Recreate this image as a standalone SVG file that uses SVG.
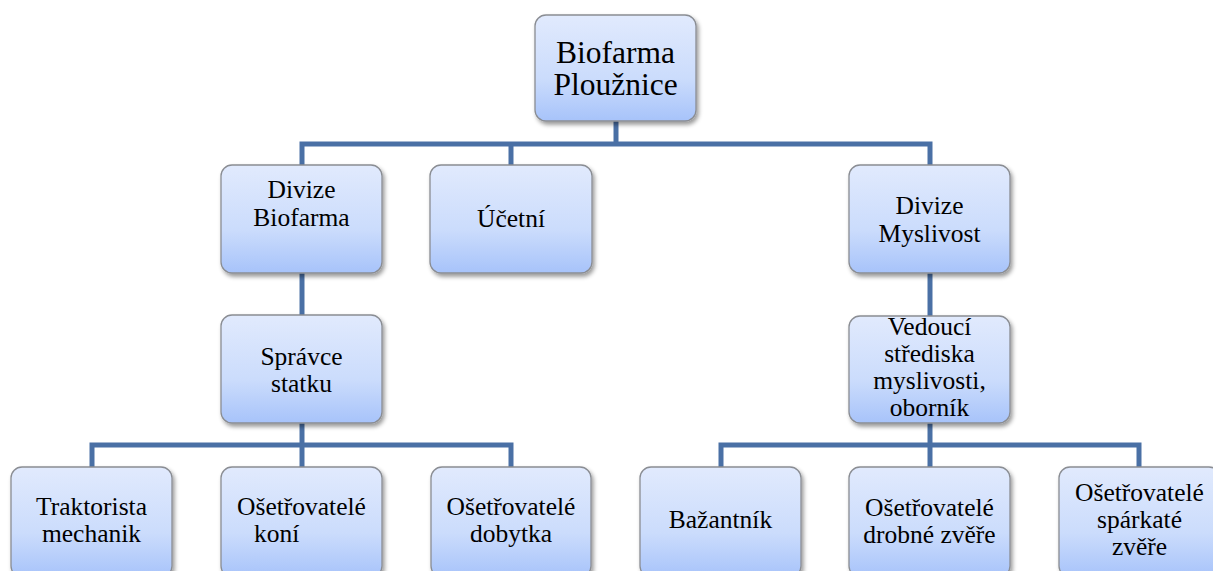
<svg xmlns="http://www.w3.org/2000/svg" width="1213" height="571" viewBox="0 0 1213 571">
<defs>
<linearGradient id="g" x1="0" y1="0" x2="0" y2="1">
<stop offset="0" stop-color="#e1eafd"/>
<stop offset="0.6" stop-color="#cbdcfc"/>
<stop offset="1" stop-color="#a7c3fa"/>
</linearGradient>
<filter id="sh" x="-10%" y="-10%" width="125%" height="130%">
<feDropShadow dx="2" dy="3" stdDeviation="2.2" flood-color="#000" flood-opacity="0.4"/>
</filter>
<style>
.box{fill:url(#g);stroke:#8a8d93;stroke-width:1.3;filter:url(#sh)}
text{font-family:'Liberation Serif','Times New Roman',serif;font-size:25.5px;fill:#000;text-anchor:middle}
.tr{font-size:31.5px}
.c{fill:none;stroke:#4a70a5;stroke-width:5;stroke-linejoin:miter}
</style>
</defs>
<rect width="1213" height="571" fill="#fff"/>
<g id="connectors">
<path class="c" d="M616 121 V144"/>
<path class="c" d="M302 165 V144 H930 V165"/>
<path class="c" d="M511 144 V165"/>
<path class="c" d="M302 273 V315"/>
<path class="c" d="M930 273 V316"/>
<path class="c" d="M302 423 V467"/>
<path class="c" d="M92 467 V445 H511 V467"/>
<path class="c" d="M930 423 V467"/>
<path class="c" d="M721 467 V445 H1139 V467"/>
</g>
<g id="n-root">
<rect class="box" x="535" y="15" width="161" height="106" rx="11"/>
<text class="tr" x="615.5" y="63">Biofarma</text>
<text class="tr" x="615.5" y="95">Ploužnice</text>
</g>
<g id="n-divize-biofarma">
<rect class="box" x="221" y="165" width="161" height="108" rx="11"/>
<text x="301.5" y="198">Divize</text>
<text x="301.5" y="226">Biofarma</text>
</g>
<g id="n-ucetni">
<rect class="box" x="430" y="165" width="162" height="108" rx="11"/>
<text x="511" y="227">Účetní</text>
</g>
<g id="n-divize-myslivost">
<rect class="box" x="849" y="165" width="161" height="108" rx="11"/>
<text x="929.5" y="214">Divize</text>
<text x="929.5" y="242">Myslivost</text>
</g>
<g id="n-spravce">
<rect class="box" x="221" y="315" width="161" height="108" rx="11"/>
<text x="301.5" y="365">Správce</text>
<text x="301.5" y="392">statku</text>
</g>
<g id="n-vedouci">
<rect class="box" x="849" y="316" width="161" height="107" rx="11"/>
<text x="929.5" y="335">Vedoucí</text>
<text x="929.5" y="362">střediska</text>
<text x="929.5" y="389">myslivosti,</text>
<text x="929.5" y="416">oborník</text>
</g>
<g id="n-traktorista">
<rect class="box" x="11" y="467" width="161" height="110" rx="11"/>
<text x="91.5" y="515">Traktorista</text>
<text x="91.5" y="542">mechanik</text>
</g>
<g id="n-kone">
<rect class="box" x="221" y="467" width="161" height="110" rx="11"/>
<text x="301.5" y="515">Ošetřovatelé</text>
<text x="254" y="542" style="text-anchor:start">koní</text>
</g>
<g id="n-dobytek">
<rect class="box" x="431" y="467" width="160" height="110" rx="11"/>
<text x="511" y="515">Ošetřovatelé</text>
<text x="511" y="542">dobytka</text>
</g>
<g id="n-bazantnik">
<rect class="box" x="640" y="467" width="161" height="110" rx="11"/>
<text x="720.5" y="528">Bažantník</text>
</g>
<g id="n-drobna">
<rect class="box" x="849" y="467" width="161" height="110" rx="11"/>
<text x="929.5" y="516">Ošetřovatelé</text>
<text x="929.5" y="543">drobné zvěře</text>
</g>
<g id="n-sparkata">
<rect class="box" x="1059" y="467" width="161" height="110" rx="11"/>
<text x="1139.5" y="501">Ošetřovatelé</text>
<text x="1139.5" y="528">spárkaté</text>
<text x="1139.5" y="555">zvěře</text>
</g>
</svg>
